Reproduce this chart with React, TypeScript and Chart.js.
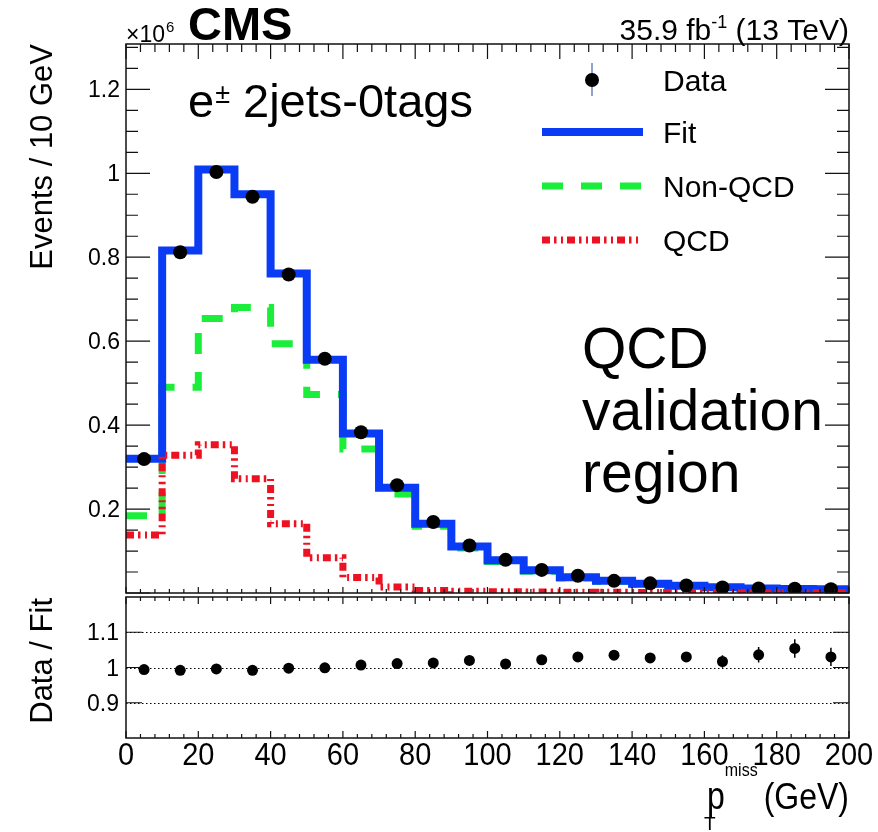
import React, { useEffect, useRef } from "react";
import { Chart, registerables } from "chart.js";
Chart.register(...registerables);

const FONT = '"Liberation Sans", Arial, Helvetica, sans-serif';

// ---- data (values in units of 10^6 events / 10 GeV) ----
const binEdges = [0, 10, 20, 30, 40, 50, 60, 70, 80, 90, 100, 110, 120, 130, 140, 150, 160, 170, 180, 190, 200];
const binCenters = [5, 15, 25, 35, 45, 55, 65, 75, 85, 95, 105, 115, 125, 135, 145, 155, 165, 175, 185, 195];
const dataValues = [0.319, 0.812, 1.003, 0.944, 0.759, 0.558, 0.383, 0.257, 0.169, 0.113, 0.079, 0.055, 0.041, 0.029, 0.023, 0.018, 0.013, 0.011, 0.010, 0.009];
const fitValues = [0.320, 0.816, 1.009, 0.950, 0.761, 0.556, 0.380, 0.251, 0.165, 0.111, 0.078, 0.054, 0.0375, 0.029, 0.022, 0.0175, 0.0135, 0.011, 0.0095, 0.0087];
const nonQcdValues = [0.184, 0.490, 0.654, 0.680, 0.594, 0.473, 0.343, 0.236, 0.159, 0.107, 0.075, 0.052, 0.036, 0.028, 0.021, 0.017, 0.013, 0.011, 0.009, 0.0085];
const qcdValues = [0.138, 0.328, 0.353, 0.272, 0.165, 0.084, 0.037, 0.014, 0.006, 0.004, 0.003, 0.0025, 0.002, 0.0015, 0.0012, 0.001, 0.0008, 0.0006, 0.0005, 0.0004];
const ratioValues = [0.994, 0.992, 0.996, 0.992, 0.998, 0.999, 1.007, 1.011, 1.013, 1.020, 1.010, 1.022, 1.030, 1.035, 1.027, 1.030, 1.017, 1.036, 1.054, 1.030];
const ratioErrors = [0.002, 0.002, 0.002, 0.002, 0.003, 0.003, 0.003, 0.004, 0.005, 0.005, 0.006, 0.007, 0.008, 0.009, 0.011, 0.014, 0.018, 0.022, 0.026, 0.026];

// ---- ticks ----
const xMajorTicks = [0, 20, 40, 60, 80, 100, 120, 140, 160, 180, 200];
const xTickLabels = ["0", "20", "40", "60", "80", "100", "120", "140", "160", "180", "200"];
const yMainTicks = [0.2, 0.4, 0.6, 0.8, 1.0, 1.2];
const yMainLabels = ["0.2", "0.4", "0.6", "0.8", "1", "1.2"];
const yRatioTicks = [0.9, 1.0, 1.1];
const yRatioLabels = ["0.9", "1", "1.1"];

const BLUE = "#0a3cf5";
const GREEN = "#1aee3a";
const RED = "#ee1122";
const GREEN_DASH = [21, 18];
const RED_DASH = [8, 4, 2.5, 4.5, 2, 4];

function stepData(vals: number[]) {
  const pts = vals.map((v, i) => ({ x: binEdges[i], y: v }));
  pts.push({ x: binEdges[binEdges.length - 1], y: vals[vals.length - 1] });
  return pts;
}

function setFont(ctx: CanvasRenderingContext2D, size: number, bold = false) {
  ctx.font = `${bold ? "bold " : ""}${size}px ${FONT}`;
}
function tw(ctx: CanvasRenderingContext2D, s: string, size: number, bold = false) {
  setFont(ctx, size, bold);
  return ctx.measureText(s).width;
}
function txt(ctx: CanvasRenderingContext2D, s: string, x: number, y: number, size: number, align: CanvasTextAlign = "left", bold = false, sy = 1) {
  ctx.save();
  setFont(ctx, size, bold);
  ctx.textAlign = align;
  ctx.textBaseline = "alphabetic";
  ctx.fillStyle = "#000";
  ctx.translate(x, y);
  ctx.scale(1, sy);
  ctx.fillText(s, 0, 0);
  ctx.restore();
}
function vtxt(ctx: CanvasRenderingContext2D, s: string, x: number, yTop: number, size: number) {
  ctx.save();
  ctx.translate(x, yTop);
  ctx.rotate(-Math.PI / 2);
  setFont(ctx, size);
  ctx.textAlign = "right";
  ctx.textBaseline = "alphabetic";
  ctx.fillStyle = "#000";
  ctx.fillText(s, 0, 0);
  ctx.restore();
}

function minorFromMajor(majors: number[], sub: number) {
  const out: number[] = [];
  for (let i = 0; i < majors.length - 1; i++) {
    const step = (majors[i + 1] - majors[i]) / sub;
    for (let k = 1; k < sub; k++) out.push(majors[i] + k * step);
  }
  return out;
}

const mainPlugin = {
  id: "mainDecor",
  afterDraw(chart: any) {
    const { ctx, chartArea: a, scales } = chart;
    const xs = scales.x, ys = scales.y;
    ctx.save();
    ctx.strokeStyle = "#111";
    ctx.lineWidth = 1.5;
    ctx.strokeRect(a.left, a.top, a.right - a.left, a.bottom - a.top);

    ctx.lineWidth = 1.2;
    ctx.beginPath();
    // x ticks
    xMajorTicks.forEach((v) => {
      const px = xs.getPixelForValue(v);
      ctx.moveTo(px, a.top); ctx.lineTo(px, a.top + 15);
      ctx.moveTo(px, a.bottom); ctx.lineTo(px, a.bottom - 6);
    });
    minorFromMajor(xMajorTicks, 5).forEach((v) => {
      const px = xs.getPixelForValue(v);
      ctx.moveTo(px, a.top); ctx.lineTo(px, a.top + 8);
      ctx.moveTo(px, a.bottom); ctx.lineTo(px, a.bottom - 4);
    });
    // y ticks
    const yMaj = [0, ...yMainTicks];
    yMaj.forEach((v) => {
      const py = ys.getPixelForValue(v);
      ctx.moveTo(a.left, py); ctx.lineTo(a.left + 24, py);
      ctx.moveTo(a.right, py); ctx.lineTo(a.right - 24, py);
    });
    [...minorFromMajor(yMaj, 4), 1.25, 1.3].forEach((v) => {
      const py = ys.getPixelForValue(v);
      ctx.moveTo(a.left, py); ctx.lineTo(a.left + 12, py);
      ctx.moveTo(a.right, py); ctx.lineTo(a.right - 12, py);
    });
    ctx.stroke();

    // y labels
    yMainTicks.forEach((v, i) => {
      txt(ctx, yMainLabels[i], 120, ys.getPixelForValue(v) + 8, 23, "right");
    });
    // y title
    vtxt(ctx, "Events / 10 GeV", 52, 44, 31);

    // x10^6
    txt(ctx, "\u00d710", 126, 42, 23);
    txt(ctx, "6", 126 + tw(ctx, "\u00d710", 23) + 1, 32, 15);
    // CMS
    txt(ctx, "CMS", 188, 40, 47, "left", true);
    // lumi
    const p3 = " (13 TeV)", p2 = "-1", p1 = "35.9 fb";
    const w3 = tw(ctx, p3, 30), w2 = tw(ctx, p2, 18), w1 = tw(ctx, p1, 30);
    const startX = a.right - (w1 + w2 + w3);
    txt(ctx, p1, startX, 40, 30);
    txt(ctx, p2, startX + w1, 28, 18);
    txt(ctx, p3, startX + w1 + w2, 40, 30);

    // channel label
    txt(ctx, "e", 188, 117, 47);
    const we = tw(ctx, "e", 47);
    txt(ctx, "\u00b1", 188 + we + 1, 103, 27);
    txt(ctx, "2jets-0tags", 243, 117, 47);

    // region label
    txt(ctx, "QCD", 582, 368, 57);
    txt(ctx, "validation", 582, 430, 57);
    txt(ctx, "region", 582, 492, 57);

    // legend
    const lx1 = 542, lx2 = 643, ltx = 663;
    ctx.strokeStyle = "#2040a0";
    ctx.lineWidth = 1;
    ctx.beginPath(); ctx.moveTo(592, 63); ctx.lineTo(592, 96); ctx.stroke();
    ctx.fillStyle = "#000";
    ctx.beginPath(); ctx.arc(592, 80, 7, 0, Math.PI * 2); ctx.fill();
    txt(ctx, "Data", ltx, 91, 30);

    ctx.strokeStyle = BLUE; ctx.lineWidth = 8; ctx.setLineDash([]);
    ctx.beginPath(); ctx.moveTo(lx1, 132); ctx.lineTo(lx2, 132); ctx.stroke();
    txt(ctx, "Fit", ltx, 143, 30);

    ctx.strokeStyle = GREEN; ctx.lineWidth = 7; ctx.setLineDash(GREEN_DASH);
    ctx.beginPath(); ctx.moveTo(lx1, 186); ctx.lineTo(lx2, 186); ctx.stroke();
    txt(ctx, "Non-QCD", ltx, 197, 30);

    ctx.strokeStyle = RED; ctx.lineWidth = 7; ctx.setLineDash(RED_DASH);
    ctx.beginPath(); ctx.moveTo(lx1, 240); ctx.lineTo(lx2 - 2, 240); ctx.stroke();
    ctx.setLineDash([]);
    txt(ctx, "QCD", ltx, 251, 30);
    ctx.restore();
  },
};

const RATIO_TOP = 590;

const ratioPlugin = {
  id: "ratioDecor",
  beforeDatasetsDraw(chart: any) {
    const { ctx, chartArea: a, scales } = chart;
    const xs = scales.x, ys = scales.y;
    ctx.save();
    ctx.strokeStyle = "#000";
    ctx.lineWidth = 1;
    ctx.setLineDash([1.5, 2.5]);
    yRatioTicks.forEach((v) => {
      const py = Math.round(ys.getPixelForValue(v)) + 0.5;
      ctx.beginPath(); ctx.moveTo(a.left, py); ctx.lineTo(a.right, py); ctx.stroke();
    });
    ctx.setLineDash([]);
    ctx.lineWidth = 1.5;
    ctx.beginPath();
    binCenters.forEach((x, i) => {
      const px = xs.getPixelForValue(x);
      ctx.moveTo(px, ys.getPixelForValue(ratioValues[i] - ratioErrors[i]));
      ctx.lineTo(px, ys.getPixelForValue(ratioValues[i] + ratioErrors[i]));
    });
    ctx.stroke();
    ctx.restore();
  },
  afterDraw(chart: any) {
    const { ctx, chartArea: a, scales } = chart;
    const xs = scales.x, ys = scales.y;
    ctx.save();
    ctx.strokeStyle = "#111";
    ctx.lineWidth = 1.5;
    ctx.strokeRect(a.left, a.top, a.right - a.left, a.bottom - a.top);
    ctx.lineWidth = 1.2;
    ctx.beginPath();
    xMajorTicks.forEach((v) => {
      const px = xs.getPixelForValue(v);
      ctx.moveTo(px, a.top); ctx.lineTo(px, a.top + 7);
      ctx.moveTo(px, a.bottom); ctx.lineTo(px, a.bottom - 7);
    });
    minorFromMajor(xMajorTicks, 5).forEach((v) => {
      const px = xs.getPixelForValue(v);
      ctx.moveTo(px, a.top); ctx.lineTo(px, a.top + 4);
      ctx.moveTo(px, a.bottom); ctx.lineTo(px, a.bottom - 4);
    });
    yRatioTicks.forEach((v) => {
      const py = ys.getPixelForValue(v);
      ctx.moveTo(a.left, py); ctx.lineTo(a.left + 16, py);
      ctx.moveTo(a.right, py); ctx.lineTo(a.right - 16, py);
    });
    ctx.stroke();

    yRatioTicks.forEach((v, i) => {
      txt(ctx, yRatioLabels[i], 119, ys.getPixelForValue(v) + 8, 23, "right");
    });
    xMajorTicks.forEach((v, i) => {
      txt(ctx, xTickLabels[i], xs.getPixelForValue(v), 765 - RATIO_TOP, 29, "center", false, 1.08);
    });
    vtxt(ctx, "Data / Fit", 52, 598 - RATIO_TOP, 31);

    // x title: p_T^miss (GeV)
    const base = 809 - RATIO_TOP;
    const gev = "(GeV)";
    const wg = tw(ctx, gev, 32);
    const gx = a.right - wg;
    txt(ctx, gev, gx, base, 32, "left", false, 1.15);
    const wm = tw(ctx, "miss", 16);
    const mx = gx - 6 - wm;
    txt(ctx, "miss", mx, 776 - RATIO_TOP, 16, "left", false, 1.15);
    const wp = tw(ctx, "p", 32);
    const px = mx - wp;
    txt(ctx, "p", px, base, 32, "left", false, 1.2);
    txt(ctx, "T", px - 3, 830 - RATIO_TOP, 19);
    ctx.restore();
  },
};

export default function App() {
  const mainRef = useRef<HTMLCanvasElement>(null);
  const ratioRef = useRef<HTMLCanvasElement>(null);

  useEffect(() => {
    const main = new Chart(mainRef.current as HTMLCanvasElement, {
      type: "line",
      data: {
        datasets: [
          {
            type: "scatter",
            label: "Data",
            data: binCenters.map((x, i) => ({ x, y: dataValues[i] })),
            pointRadius: 7,
            pointBackgroundColor: "#000",
            pointBorderWidth: 0,
            showLine: false,
            order: 0,
          } as any,
          {
            label: "QCD",
            data: stepData(qcdValues),
            stepped: "before",
            borderColor: RED,
            borderWidth: 7,
            borderDash: RED_DASH,
            pointRadius: 0,
            fill: false,
            order: 1,
          },
          {
            label: "Fit",
            data: stepData(fitValues),
            stepped: "before",
            borderColor: BLUE,
            borderWidth: 8,
            borderJoinStyle: "miter",
            pointRadius: 0,
            fill: false,
            order: 2,
          },
          {
            label: "Non-QCD",
            data: stepData(nonQcdValues),
            stepped: "before",
            borderColor: GREEN,
            borderWidth: 7,
            borderDash: GREEN_DASH,
            pointRadius: 0,
            fill: false,
            order: 3,
          },
        ],
      },
      options: {
        responsive: false,
        maintainAspectRatio: false,
        animation: false,
        events: [],
        layout: { padding: { left: 126, right: 29, top: 44, bottom: 3.5 } },
        plugins: { legend: { display: false }, tooltip: { enabled: false } },
        scales: {
          x: { type: "linear", min: 0, max: 200, display: false },
          y: { type: "linear", min: 0, max: 1.308, display: false },
        },
      },
      plugins: [mainPlugin],
    });

    const ratio = new Chart(ratioRef.current as HTMLCanvasElement, {
      type: "scatter",
      data: {
        datasets: [
          {
            label: "Data / Fit",
            data: binCenters.map((x, i) => ({ x, y: ratioValues[i] })),
            pointRadius: 5.5,
            pointBackgroundColor: "#000",
            pointBorderWidth: 0,
            showLine: false,
          },
        ],
      },
      options: {
        responsive: false,
        maintainAspectRatio: false,
        animation: false,
        events: [],
        layout: { padding: { left: 126, right: 29, top: 7, bottom: 242 - 148 } },
        plugins: { legend: { display: false }, tooltip: { enabled: false } },
        scales: {
          x: { type: "linear", min: 0, max: 200, display: false },
          y: { type: "linear", min: 0.8, max: 1.2, display: false },
        },
      },
      plugins: [ratioPlugin],
    });

    return () => {
      main.destroy();
      ratio.destroy();
    };
  }, []);

  return (
    <div style={{ position: "absolute", left: 0, top: 0, width: 878, height: 832, background: "#fff", overflow: "hidden" }}>
      <canvas ref={mainRef} width={878} height={600} style={{ position: "absolute", left: 0, top: 0 }} />
      <canvas ref={ratioRef} width={878} height={242} style={{ position: "absolute", left: 0, top: RATIO_TOP }} />
    </div>
  );
}
